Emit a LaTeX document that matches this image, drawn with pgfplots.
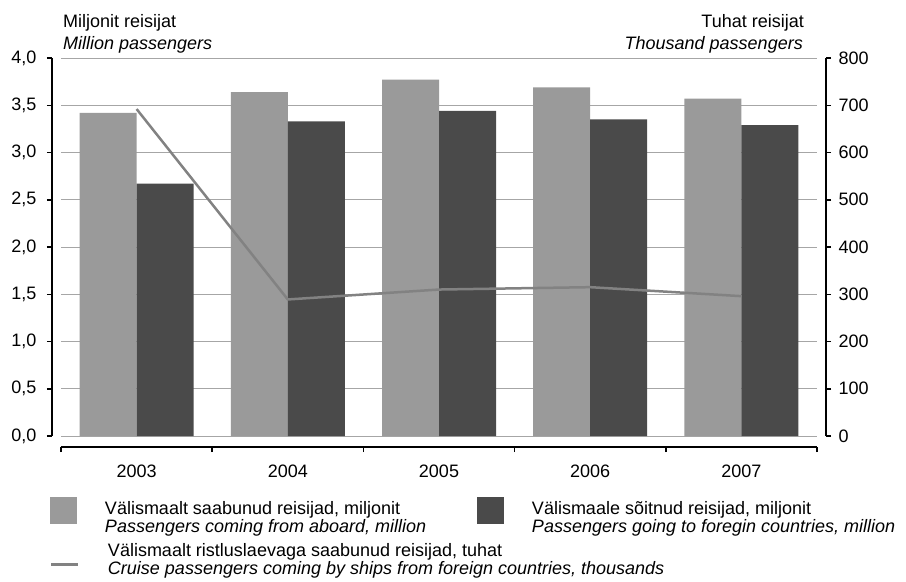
\documentclass[border=0pt]{standalone}
\usepackage{fontspec}
\setmainfont{Liberation Sans}
\usepackage{pgfplots}
\pgfplotsset{compat=1.18}
\definecolor{lightbar}{HTML}{9A9A9A}
\definecolor{darkbar}{HTML}{4A4A4A}
\definecolor{linegray}{HTML}{828282}
\definecolor{gridgray}{HTML}{A6A6A6}
\newcommand{\lfont}{\fontsize{18bp}{17.5bp}\selectfont}
\begin{document}
\begin{tikzpicture}[font=\lfont]
\path[use as bounding box] (0,0) rectangle (906bp,-582bp);
\pgfplotsset{
  base/.style={
    scale only axis, width=756bp, height=378bp,
    at={(61bp,-436bp)}, anchor=south west,
    xmin=-0.5, xmax=4.5, ymin=0,
    tick align=outside,
    ticklabel style={font=\lfont},
    /pgf/number format/assume math mode=true,
    legend style={draw=none, fill=none, inner sep=0pt, outer sep=0pt,
      nodes={inner sep=0pt, anchor=west},
      column sep=0pt,
      /tikz/every odd column/.style={column sep=28bp}},
    legend cell align=left,
  }
}
\begin{axis}[base, ymax=4,
  ybar=0pt, bar width=57bp,
  axis x line*=bottom, axis y line*=left,
  x axis line style={yshift=-11bp, line width=2.5bp, black},
  y axis line style={xshift=-9bp, line width=2.5bp, black},
  ytick={0,0.5,1,1.5,2,2.5,3,3.5,4},
  ytick style={xshift=-9bp, line width=1.5bp, black},
  yticklabel style={xshift=-16bp, /pgf/number format/fixed, /pgf/number format/fixed zerofill, /pgf/number format/precision=1, /pgf/number format/use comma},
  major tick length=5bp,
  ymajorgrids, major grid style={gridgray, line width=1bp},
  xtick={-0.5,0.5,1.5,2.5,3.5,4.5}, xticklabels={},
  xtick style={yshift=-11bp, line width=1.5bp, black},
  extra x ticks={0,1,2,3,4},
  extra x tick labels={2003,2004,2005,2006,2007},
  extra x tick style={major tick length=0pt, xticklabel style={anchor=base, yshift=-41bp}},
  legend columns=2,
  legend style={at={(-0.01455,-0.1991)}, anchor=west},
]
\addplot[fill=lightbar, draw=none, legend image code/.code={\fill[lightbar] (0bp,-10.75bp) rectangle (27bp,16.25bp);}] coordinates {(0,3.42) (1,3.64) (2,3.77) (3,3.69) (4,3.57)};
\addlegendentry{\makebox[372bp][l]{\begin{tabular}{@{}l@{}}Välismaalt saabunud reisijad, miljonit\\\itshape Passengers coming from aboard, million\end{tabular}}}
\addplot[fill=darkbar, draw=none, legend image code/.code={\fill[darkbar] (0bp,-10.75bp) rectangle (27bp,16.25bp);}] coordinates {(0,2.67) (1,3.33) (2,3.44) (3,3.35) (4,3.29)};
\addlegendentry{\begin{tabular}{@{}l@{}}Välismaale sõitnud reisijad, miljonit\\\itshape Passengers going to foregin countries, million\end{tabular}}
\end{axis}
\begin{axis}[base, ymax=800,
  axis y line*=right, axis x line=none,
  y axis line style={xshift=9bp, line width=2.5bp, black},
  ytick={0,100,...,800},
  ytick style={xshift=9bp, line width=1.5bp, black},
  yticklabel style={xshift=13bp},
  major tick length=5bp,
  legend style={at={(-0.01455,-0.3155)}, anchor=west},
]
\addplot[linegray, line width=2.5bp, legend image code/.code={\draw[linegray, line width=3bp] (0bp,-8.75bp) -- (27bp,-8.75bp);}] coordinates {(0,692) (1,289) (2,310) (3,315) (4,296)};
\addlegendentry{\begin{tabular}{@{}l@{}}Välismaalt ristluslaevaga saabunud reisijad, tuhat\\\itshape Cruise passengers coming by ships from foreign countries, thousands\end{tabular}}
\end{axis}
\node[anchor=base west, inner sep=0pt] at (63bp,-27bp) {Miljonit reisijat};
\node[anchor=base west, inner sep=0pt] at (63bp,-49bp) {\itshape Million passengers};
\node[anchor=base east, inner sep=0pt] at (804bp,-27bp) {Tuhat reisijat};
\node[anchor=base east, inner sep=0pt] at (803bp,-49bp) {\itshape Thousand passengers};
\end{tikzpicture}
\end{document}
